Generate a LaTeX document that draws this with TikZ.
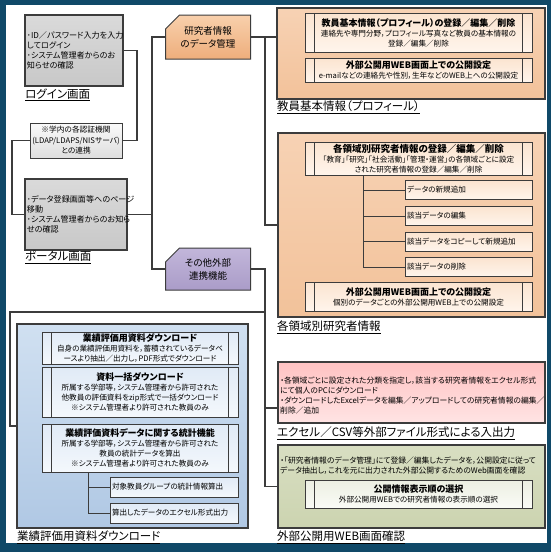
\documentclass[tikz,border=0pt]{standalone}
\usepackage{fontspec}
\setmainfont{Noto Sans CJK JP}[RawFeature={+palt}]
\usetikzlibrary{shapes.misc}
\definecolor{framec}{RGB}{16,73,104}
\definecolor{edge}{RGB}{60,60,60}
\definecolor{grayA}{RGB}{218,218,218}
\definecolor{grayB}{RGB}{200,200,200}
\definecolor{authA}{RGB}{250,250,250}
\definecolor{authB}{RGB}{222,222,222}
\definecolor{kenA}{RGB}{248,208,172}
\definecolor{kenB}{RGB}{238,174,124}
\definecolor{sonA}{RGB}{194,182,218}
\definecolor{sonB}{RGB}{170,156,200}
\definecolor{orA}{RGB}{247,210,180}
\definecolor{orB}{RGB}{242,194,154}
\definecolor{osA}{RGB}{251,228,208}
\definecolor{osB}{RGB}{255,245,236}
\definecolor{blA}{RGB}{208,224,241}
\definecolor{blB}{RGB}{176,200,228}
\definecolor{bsA}{RGB}{224,234,246}
\definecolor{bsB}{RGB}{244,248,252}
\definecolor{pkA}{RGB}{255,194,194}
\definecolor{pkB}{RGB}{255,228,228}
\definecolor{grA}{RGB}{216,222,194}
\definecolor{grB}{RGB}{204,212,176}
\definecolor{gsA}{RGB}{236,239,226}
\definecolor{gsB}{RGB}{250,251,246}
\newcommand\myhd{\bfseries\fontsize{9}{11.5}\selectfont}
\newcommand\myhdb{\bfseries\fontsize{9.5}{12}\selectfont}
\newcommand\mysm{\fontsize{7.6}{10}\selectfont}
\newcommand\mylab{\fontsize{11.5}{13}\selectfont}
\tikzset{
  conn/.style={draw=edge, line width=1.8pt},
  thinconn/.style={draw=edge, line width=0.9pt},
  gbox/.style={draw=edge, line width=1.2pt, top color=grayA, bottom color=grayB,
    inner sep=2pt, align=left, font=\fontsize{8.1}{10.2}\selectfont},
  authbox/.style={draw=edge, line width=1pt, top color=authA, bottom color=authB,
    inner sep=0pt, align=center, font=\fontsize{7.7}{10.5}\selectfont},
  tagbox/.style={chamfered rectangle, chamfered rectangle corners=north west,
    chamfered rectangle xsep=7pt, chamfered rectangle ysep=7pt,
    draw=edge, line width=1pt, inner sep=0pt, align=center,
    font=\fontsize{9.5}{13}\selectfont},
  bigbox/.style={draw=edge, line width=2pt, inner sep=0pt},
  proc/.style={draw=edge, line width=0.9pt, inner sep=0pt, align=center, font=\mysm,
    path picture={\draw[edge, line width=0.9pt]
      ([xshift=9.5pt]path picture bounding box.north west) --
      ([xshift=9.5pt]path picture bounding box.south west)
      ([xshift=-9.5pt]path picture bounding box.north east) --
      ([xshift=-9.5pt]path picture bounding box.south east);}},
  itembox/.style={draw=edge, line width=0.9pt, inner sep=2pt, align=left, font=\mysm},
  lab/.style={anchor=west, inner sep=1pt, font=\mylab},
  freetext/.style={anchor=north west, inner sep=0pt, align=left,
    font=\fontsize{7.8}{9.8}\selectfont}
}
\begin{document}
\begin{tikzpicture}[x=1pt,y=-1pt]
\useasboundingbox (0,0) rectangle (551,552);
\fill[framec] (0,0) rectangle (551,552);
\fill[white] (6,5) rectangle (547,543);

% ---- left column ----
\node[gbox, minimum width=98pt, minimum height=71pt, text width=94pt] (login) at (74,50.5)
  {･ID／パスワード入力を入力\\してログイン\\･システム管理者からのお\\知らせの確認};
\node[lab] (lablogin) at (24,95) {\underline{ログイン画面}};
\node[authbox, minimum width=92pt, minimum height=35pt] (auth) at (76,140.5)
  {※学内の各認証機関\\(LDAP/LDAPS/NISサーバ)\\との連携};
\node[gbox, minimum width=102pt, minimum height=71pt, text width=98pt] (portal) at (76,214.5)
  {･データ登録画面等へのページ\\移動\\･システム管理者からのお知ら\\せの確認};
\node[lab] (labportal) at (24,257) {\underline{ポータル画面}};

% ---- middle tags ----
\node[tagbox, top color=kenA, bottom color=kenB, minimum width=85pt, minimum height=44pt]
  (kenkyu) at (208,37) {研究者情報\\のデータ管理};
\node[tagbox, top color=sonA, bottom color=sonB, minimum width=85pt, minimum height=42pt]
  (sonota) at (208,269) {その他外部\\連携機能};

% ---- box 1 ----
\node[bigbox, top color=orA, bottom color=orB, minimum width=268pt, minimum height=91pt]
  (box1) at (411,53.5) {};
\node[proc, top color=osA, bottom color=osB, minimum width=227pt, minimum height=39pt]
  (k1) at (418.5,32.5)
  {{\myhd 教員基本情報（プロフィール）の登録／編集／削除}\\連絡先や専門分野，プロフィール写真など教員の基本情報の\\登録／編集／削除};
\node[proc, top color=osA, bottom color=osB, minimum width=227pt, minimum height=24pt]
  (k2) at (418.5,70)
  {{\myhd 外部公開用WEB画面上での公開設定}\\e-mailなどの連絡先や性別，生年などのWEB上への公開設定};
\node[lab] (lab1) at (276,107) {\underline{教員基本情報（プロフィール）}};

% ---- box 2 ----
\node[bigbox, top color=orA, bottom color=orB, minimum width=267pt, minimum height=184pt]
  (box2) at (411.5,225) {};
\node[proc, top color=osA, bottom color=osB, minimum width=227pt, minimum height=33pt]
  (r0) at (418.5,158.5)
  {{\myhdb 各領域別研究者情報の登録／編集／削除}\\「教育」「研究」「社会活動」「管理・運営」の各領域ごとに設定\\された研究者情報の登録／編集／削除};
\node[itembox, top color=osA, bottom color=osB, minimum width=127pt, minimum height=19pt, text width=123pt]
  (r1) at (468.5,190) {データの新規追加};
\node[itembox, top color=osA, bottom color=osB, minimum width=127pt, minimum height=19pt, text width=123pt]
  (r2) at (468.5,216) {該当データの編集};
\node[itembox, top color=osA, bottom color=osB, minimum width=127pt, minimum height=19pt, text width=123pt]
  (r3) at (468.5,241.5) {該当データをコピーして新規追加};
\node[itembox, top color=osA, bottom color=osB, minimum width=127pt, minimum height=19pt, text width=123pt]
  (r4) at (468.5,267) {該当データの削除};
\node[proc, top color=osA, bottom color=osB, minimum width=227pt, minimum height=29pt]
  (r5) at (418.5,296.5)
  {{\myhd 外部公開用WEB画面上での公開設定}\\個別のデータごとの外部公開用WEB上での公開設定};
\node[lab] (lab2) at (276,327) {\underline{各領域別研究者情報}};
\coordinate (t2) at (363,0);
\draw[thinconn] (r0.south -| t2) |- (r4.west);
\draw[thinconn] (r1.west -| t2) -- (r1.west);
\draw[thinconn] (r2.west -| t2) -- (r2.west);
\draw[thinconn] (r3.west -| t2) -- (r3.west);

% ---- pink ----
\node[bigbox, top color=pkA, bottom color=pkB, minimum width=267pt, minimum height=61pt]
  (pink) at (411.5,392.5) {};
\node[freetext] (pinktext) at (280,377)
  {・各領域ごとに設定された分類を指定し，該当する研究者情報をエクセル形式\\にて個人のPCにダウンロード\\・ダウンロードしたExcelデータを編集／アップロードしての研究者情報の編集／\\削除／追加};
\node[lab] (lab3) at (276,433) {\underline{エクセル／CSV等外部ファイル形式による入出力}};

% ---- green ----
\node[bigbox, top color=grA, bottom color=grB, minimum width=267pt, minimum height=83pt]
  (green) at (411.5,486.5) {};
\node[freetext] (greentext) at (280,457)
  {・「研究者情報のデータ管理」にて登録／編集したデータを，公開設定に従って\\データ抽出し，これを元に出力された外部公開するためのWeb画面を確認};
\node[proc, top color=gsA, bottom color=gsB, minimum width=227pt, minimum height=28pt]
  (g1) at (418.5,494)
  {{\myhd 公開情報表示順の選択}\\外部公開用WEBでの研究者情報の表示順の選択};
\node[lab] (lab4) at (276,537) {\underline{外部公開用WEB画面確認}};

% ---- blue ----
\node[bigbox, top color=blA, bottom color=blB, minimum width=231pt, minimum height=204pt]
  (blue) at (132.5,426) {};
\node[proc, top color=bsA, bottom color=bsB, minimum width=196pt, minimum height=32pt]
  (b1) at (140,348)
  {{\myhd 業績評価用資料ダウンロード}\\自身の業績評価用資料を，蓄積されているデータベ\\ースより抽出／出力し，PDF形式でダウンロード};
\node[proc, top color=bsA, bottom color=bsB, minimum width=196pt, minimum height=50pt]
  (b2) at (140,392)
  {{\myhd 資料一括ダウンロード}\\所属する学部等，システム管理者から許可された\\他教員の評価資料をzip形式で一括ダウンロード\\※システム管理者より許可された教員のみ};
\node[proc, top color=bsA, bottom color=bsB, minimum width=196pt, minimum height=48pt]
  (b3) at (140,448)
  {{\myhd 業績評価資料データに関する統計機能}\\所属する学部等，システム管理者から許可された\\教員の統計データを算出\\※システム管理者より許可された教員のみ};
\node[itembox, top color=bsA, bottom color=bsB, minimum width=128pt, minimum height=20pt, text width=124pt]
  (s1) at (174,487) {対象教員グループの統計情報算出};
\node[itembox, top color=bsA, bottom color=bsB, minimum width=128pt, minimum height=20pt, text width=124pt]
  (s2) at (174,513) {算出したデータのエクセル形式出力};
\node[lab] (lab5) at (16,537) {\underline{業績評価用資料ダウンロード}};
\coordinate (t3) at (88,0);
\draw[thinconn] (b3.south -| t3) |- (s2.west);
\draw[thinconn] (s1.west -| t3) -- (s1.west);

% ---- connectors ----
\coordinate (tA) at (137,0);
\coordinate (tB) at (12,0);
\coordinate (tL) at (152,0);
\coordinate (tR) at (265,0);
\coordinate (tC) at (10,0);
\coordinate (yb) at (0,312);
\coordinate (yp) at (0,408);
\draw[conn] (login.east) -- (login.east -| tA) |- (auth.east);
\draw[conn] (auth.west) -- (auth.west -| tB) |- (portal.west);
\draw[conn] (kenkyu.west) -- (kenkyu.west -| tL) |- (sonota.west);
\draw[conn] (portal.east) -- (portal.east -| tL);
\draw[conn] (kenkyu.east) -- (kenkyu.east -| box1.west);
\draw[conn] (kenkyu.east -| tR) |- (box2.west);
\draw[conn] (sonota.east) -- (sonota.east -| tR) |- (green.west);
\draw[conn] (tR |- yp) -- (yp -| pink.west);
\draw[conn] (tR |- yb) -- (tC |- yb) |- (blue.west);
\end{tikzpicture}
\end{document}
